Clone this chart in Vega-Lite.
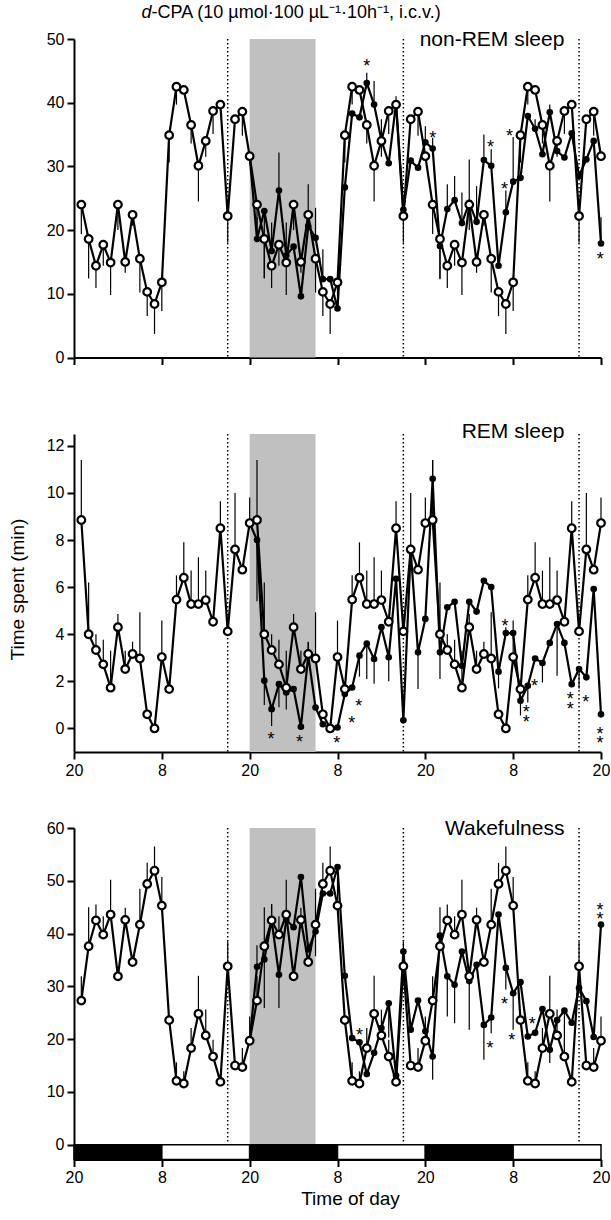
{
"$schema": "https://vega.github.io/schema/vega-lite/v6.json",
"padding": {"left": 8, "top": 3, "right": 0, "bottom": 0},
"bounds": "flush",
"spacing": 76,
"config": {
 "font": "Liberation Sans",
 "view": {"stroke": null},
 "axis": {"domainColor": "black", "domainWidth": 2, "tickColor": "black", "tickWidth": 2, "tickSize": 7, "labelColor": "black", "labelFontSize": 16, "labelFont": "Liberation Sans", "labelPadding": 3, "titleFont": "Liberation Sans", "titleFontSize": 19, "titleFontWeight": "normal", "titleColor": "black", "grid": false, "labelFlush": false, "labelOverlap": false},
 "text": {"font": "Liberation Sans", "color": "black", "fill": "black"}
},
"datasets": {
 "shade": [{"h": 24, "h2": 33}],
 "dots": [{"h": 21}, {"h": 45}, {"h": 69}],
 "ld": [{"h": 0, "h2": 12, "p": "d"}, {"h": 12, "h2": 24, "p": "l"}, {"h": 24, "h2": 36, "p": "d"}, {"h": 36, "h2": 48, "p": "l"}, {"h": 48, "h2": 60, "p": "d"}, {"h": 60, "h2": 72, "p": "l"}],
 "ast1": [{"h": 40, "v": 46.3}, {"h": 49, "v": 35.0}, {"h": 56.9, "v": 33.5}, {"h": 58.8, "v": 27.0}, {"h": 59.5, "v": 35.2}, {"h": 71.9, "v": 16.0}],
 "ast2": [{"h": 26.9, "v": -0.34}, {"h": 30.8, "v": -0.45}, {"h": 35.9, "v": -0.48}, {"h": 37.95, "v": 0.37}, {"h": 38.9, "v": 1.1}, {"h": 58.9, "v": 4.48}, {"h": 61.8, "v": 0.82}, {"h": 61.8, "v": 0.42}, {"h": 62.9, "v": 1.91}, {"h": 67.8, "v": 1.36}, {"h": 67.8, "v": 0.96}, {"h": 69.9, "v": 1.27}, {"h": 71.85, "v": -0.1}, {"h": 71.85, "v": -0.48}],
 "ast3": [{"h": 39.0, "v": 21.3}, {"h": 56.85, "v": 18.95}, {"h": 58.8, "v": 27.2}, {"h": 59.8, "v": 20.4}, {"h": 62.6, "v": 23.4}, {"h": 71.85, "v": 45.0}, {"h": 71.85, "v": 43.3}],
 "p1": [
{"h":1,"v":24,"e":19.4,"s":"o"},{"h":2,"v":18.6,"e":12.4,"s":"o"},{"h":3,"v":14.4,"e":10.9,"s":"o"},{"h":4,"v":17.7,"e":14.4,"s":"o"},{"h":5,"v":14.9,"e":9.8,"s":"o"},{"h":6,"v":24,"e":20,"s":"o"},{"h":7,"v":15,"e":13.3,"s":"o"},{"h":8,"v":22.4,"e":20.7,"s":"o"},{"h":9,"v":15.5,"e":10.2,"s":"o"},{"h":10,"v":10.3,"e":6.5,"s":"o"},{"h":11,"v":8.4,"e":3.7,"s":"o"},{"h":12,"v":11.8,"e":7.3,"s":"o"},{"h":13,"v":34.9,"e":30.6,"s":"o"},{"h":14,"v":42.5,"e":39.7,"s":"o"},{"h":15,"v":42,"e":42,"s":"o"},{"h":16,"v":36.5,"e":33.6,"s":"o"},{"h":17,"v":30.1,"e":24.5,"s":"o"},{"h":18,"v":34,"e":31.5,"s":"o"},{"h":19,"v":38.7,"e":35.1,"s":"o"},{"h":20,"v":39.7,"e":39.7,"s":"o"},{"h":21,"v":22.2,"e":18,"s":"o"},{"h":22,"v":37.4,"e":37.4,"s":"o"},{"h":23,"v":38.6,"e":34.8,"s":"o"},{"h":24,"v":31.6,"e":31.6,"s":"o"},
{"h":25,"v":24,"e":19.4,"s":"o"},{"h":26,"v":18.6,"e":12.4,"s":"o"},{"h":27,"v":14.4,"e":10.9,"s":"o"},{"h":28,"v":17.7,"e":14.4,"s":"o"},{"h":29,"v":14.9,"e":9.8,"s":"o"},{"h":30,"v":24,"e":20,"s":"o"},{"h":31,"v":15,"e":13.3,"s":"o"},{"h":32,"v":22.4,"e":20.7,"s":"o"},{"h":33,"v":15.5,"e":10.2,"s":"o"},{"h":34,"v":10.3,"e":6.5,"s":"o"},{"h":35,"v":8.4,"e":3.7,"s":"o"},{"h":36,"v":11.8,"e":7.3,"s":"o"},{"h":37,"v":34.9,"e":30.6,"s":"o"},{"h":38,"v":42.5,"e":39.7,"s":"o"},{"h":39,"v":42,"e":42,"s":"o"},{"h":40,"v":36.5,"e":33.6,"s":"o"},{"h":41,"v":30.1,"e":24.5,"s":"o"},{"h":42,"v":34,"e":31.5,"s":"o"},{"h":43,"v":38.7,"e":35.1,"s":"o"},{"h":44,"v":39.7,"e":39.7,"s":"o"},{"h":45,"v":22.2,"e":18,"s":"o"},{"h":46,"v":37.4,"e":37.4,"s":"o"},{"h":47,"v":38.6,"e":34.8,"s":"o"},{"h":48,"v":31.6,"e":31.6,"s":"o"},
{"h":49,"v":24,"e":19.4,"s":"o"},{"h":50,"v":18.6,"e":12.4,"s":"o"},{"h":51,"v":14.4,"e":10.9,"s":"o"},{"h":52,"v":17.7,"e":14.4,"s":"o"},{"h":53,"v":14.9,"e":9.8,"s":"o"},{"h":54,"v":24,"e":20,"s":"o"},{"h":55,"v":15,"e":13.3,"s":"o"},{"h":56,"v":22.4,"e":20.7,"s":"o"},{"h":57,"v":15.5,"e":10.2,"s":"o"},{"h":58,"v":10.3,"e":6.5,"s":"o"},{"h":59,"v":8.4,"e":3.7,"s":"o"},{"h":60,"v":11.8,"e":7.3,"s":"o"},{"h":61,"v":34.9,"e":30.6,"s":"o"},{"h":62,"v":42.5,"e":39.7,"s":"o"},{"h":63,"v":42,"e":42,"s":"o"},{"h":64,"v":36.5,"e":33.6,"s":"o"},{"h":65,"v":30.1,"e":24.5,"s":"o"},{"h":66,"v":34,"e":31.5,"s":"o"},{"h":67,"v":38.7,"e":35.1,"s":"o"},{"h":68,"v":39.7,"e":39.7,"s":"o"},{"h":69,"v":22.2,"e":18,"s":"o"},{"h":70,"v":37.4,"e":37.4,"s":"o"},{"h":71,"v":38.6,"e":34.8,"s":"o"},{"h":72,"v":31.6,"e":31.6,"s":"o"},
{"h":24,"v":31.6,"e":31.6,"s":"f"},{"h":25,"v":18.6,"e":22,"s":"f"},{"h":26,"v":23,"e":12.5,"s":"f"},{"h":27,"v":16.7,"e":21.2,"s":"f"},{"h":28,"v":26.2,"e":32.2,"s":"f"},{"h":29,"v":16,"e":21.2,"s":"f"},{"h":30,"v":17.4,"e":17.4,"s":"f"},{"h":31,"v":9.6,"e":9.6,"s":"f"},{"h":32,"v":20.6,"e":27.2,"s":"f"},{"h":33,"v":18.8,"e":23.5,"s":"f"},{"h":34,"v":12.3,"e":17,"s":"f"},{"h":35,"v":12.3,"e":12.3,"s":"f"},{"h":36,"v":7.7,"e":7.7,"s":"f"},{"h":37,"v":26.7,"e":26.7,"s":"f"},{"h":38,"v":38.3,"e":38.3,"s":"f"},{"h":39,"v":37.7,"e":37.7,"s":"f"},{"h":40,"v":43.1,"e":44.7,"s":"f"},{"h":41,"v":39.7,"e":43.4,"s":"f"},{"h":42,"v":34.1,"e":37.4,"s":"f"},{"h":43,"v":30.5,"e":30.5,"s":"f"},{"h":44,"v":39.9,"e":41,"s":"f"},{"h":45,"v":23.2,"e":23.2,"s":"f"},{"h":46,"v":30.9,"e":30.9,"s":"f"},{"h":47,"v":29.8,"e":29.8,"s":"f"},{"h":48,"v":33.8,"e":36.3,"s":"f"},{"h":49,"v":32.8,"e":34.5,"s":"f"},{"h":50,"v":17.5,"e":12.3,"s":"f"},{"h":51,"v":23.3,"e":27.2,"s":"f"},{"h":52,"v":24.7,"e":28.5,"s":"f"},{"h":53,"v":21.1,"e":25.9,"s":"f"},{"h":54,"v":24.3,"e":31.1,"s":"f"},{"h":55,"v":21.3,"e":26.9,"s":"f"},{"h":56,"v":31,"e":35,"s":"f"},{"h":57,"v":30.1,"e":32.7,"s":"f"},{"h":58,"v":14.4,"e":14.4,"s":"f"},{"h":59,"v":22.8,"e":26.2,"s":"f"},{"h":60,"v":27.6,"e":34.6,"s":"f"},{"h":61,"v":28.2,"e":28.2,"s":"f"},{"h":62,"v":37.9,"e":37.9,"s":"f"},{"h":63,"v":35.9,"e":37.4,"s":"f"},{"h":64,"v":31.9,"e":31.9,"s":"f"},{"h":65,"v":38.5,"e":39.7,"s":"f"},{"h":66,"v":32.4,"e":32.4,"s":"f"},{"h":67,"v":31.4,"e":31.4,"s":"f"},{"h":68,"v":35.2,"e":35.2,"s":"f"},{"h":69,"v":28.5,"e":28.5,"s":"f"},{"h":70,"v":31.1,"e":31.1,"s":"f"},{"h":71,"v":34,"e":34,"s":"f"},{"h":72,"v":17.9,"e":22,"s":"f"}
 ],
 "p2": [
{"h":1,"v":8.85,"e":11.4,"s":"o"},{"h":2,"v":4,"e":6.2,"s":"o"},{"h":3,"v":3.33,"e":4,"s":"o"},{"h":4,"v":2.72,"e":3.77,"s":"o"},{"h":5,"v":1.73,"e":3.3,"s":"o"},{"h":6,"v":4.3,"e":4.86,"s":"o"},{"h":7,"v":2.52,"e":3.3,"s":"o"},{"h":8,"v":3.16,"e":3.68,"s":"o"},{"h":9,"v":2.97,"e":4.93,"s":"o"},{"h":10,"v":0.6,"e":0.6,"s":"o"},{"h":11,"v":0,"e":0,"s":"o"},{"h":12,"v":3.03,"e":4.58,"s":"o"},{"h":13,"v":1.67,"e":1.67,"s":"o"},{"h":14,"v":5.47,"e":6.5,"s":"o"},{"h":15,"v":6.4,"e":7.9,"s":"o"},{"h":16,"v":5.28,"e":6.7,"s":"o"},{"h":17,"v":5.28,"e":7.27,"s":"o"},{"h":18,"v":5.45,"e":6.7,"s":"o"},{"h":19,"v":4.53,"e":4.53,"s":"o"},{"h":20,"v":8.5,"e":9.65,"s":"o"},{"h":21,"v":4.12,"e":4.12,"s":"o"},{"h":22,"v":7.6,"e":10,"s":"o"},{"h":23,"v":6.74,"e":6.74,"s":"o"},{"h":24,"v":8.72,"e":9.8,"s":"o"},
{"h":25,"v":8.85,"e":11.4,"s":"o"},{"h":26,"v":4,"e":6.2,"s":"o"},{"h":27,"v":3.33,"e":4,"s":"o"},{"h":28,"v":2.72,"e":3.77,"s":"o"},{"h":29,"v":1.73,"e":3.3,"s":"o"},{"h":30,"v":4.3,"e":4.86,"s":"o"},{"h":31,"v":2.52,"e":3.3,"s":"o"},{"h":32,"v":3.16,"e":3.68,"s":"o"},{"h":33,"v":2.97,"e":4.93,"s":"o"},{"h":34,"v":0.6,"e":0.6,"s":"o"},{"h":35,"v":0,"e":0,"s":"o"},{"h":36,"v":3.03,"e":4.58,"s":"o"},{"h":37,"v":1.67,"e":1.67,"s":"o"},{"h":38,"v":5.47,"e":6.5,"s":"o"},{"h":39,"v":6.4,"e":7.9,"s":"o"},{"h":40,"v":5.28,"e":6.7,"s":"o"},{"h":41,"v":5.28,"e":7.27,"s":"o"},{"h":42,"v":5.45,"e":6.7,"s":"o"},{"h":43,"v":4.53,"e":4.53,"s":"o"},{"h":44,"v":8.5,"e":9.65,"s":"o"},{"h":45,"v":4.12,"e":4.12,"s":"o"},{"h":46,"v":7.6,"e":10,"s":"o"},{"h":47,"v":6.74,"e":6.74,"s":"o"},{"h":48,"v":8.72,"e":9.8,"s":"o"},
{"h":49,"v":8.85,"e":11.4,"s":"o"},{"h":50,"v":4,"e":6.2,"s":"o"},{"h":51,"v":3.33,"e":4,"s":"o"},{"h":52,"v":2.72,"e":3.77,"s":"o"},{"h":53,"v":1.73,"e":3.3,"s":"o"},{"h":54,"v":4.3,"e":4.86,"s":"o"},{"h":55,"v":2.52,"e":3.3,"s":"o"},{"h":56,"v":3.16,"e":3.68,"s":"o"},{"h":57,"v":2.97,"e":4.93,"s":"o"},{"h":58,"v":0.6,"e":0.6,"s":"o"},{"h":59,"v":0,"e":0,"s":"o"},{"h":60,"v":3.03,"e":4.58,"s":"o"},{"h":61,"v":1.67,"e":1.67,"s":"o"},{"h":62,"v":5.47,"e":6.5,"s":"o"},{"h":63,"v":6.4,"e":7.9,"s":"o"},{"h":64,"v":5.28,"e":6.7,"s":"o"},{"h":65,"v":5.28,"e":7.27,"s":"o"},{"h":66,"v":5.45,"e":6.7,"s":"o"},{"h":67,"v":4.53,"e":4.53,"s":"o"},{"h":68,"v":8.5,"e":9.65,"s":"o"},{"h":69,"v":4.12,"e":4.12,"s":"o"},{"h":70,"v":7.6,"e":10,"s":"o"},{"h":71,"v":6.74,"e":6.74,"s":"o"},{"h":72,"v":8.72,"e":9.8,"s":"o"},
{"h":24,"v":8.72,"e":8.72,"s":"f"},{"h":25,"v":8,"e":5.4,"s":"f"},{"h":26,"v":2.03,"e":1,"s":"f"},{"h":27,"v":0.82,"e":0.1,"s":"f"},{"h":28,"v":1.88,"e":0.9,"s":"f"},{"h":29,"v":1.53,"e":0.8,"s":"f"},{"h":30,"v":1.67,"e":1.67,"s":"f"},{"h":31,"v":0.07,"e":0.07,"s":"f"},{"h":32,"v":3.09,"e":3.65,"s":"f"},{"h":33,"v":0.89,"e":0.89,"s":"f"},{"h":34,"v":0.18,"e":0.18,"s":"f"},{"h":35,"v":0.04,"e":0.04,"s":"f"},{"h":36,"v":0.04,"e":0.04,"s":"f"},{"h":37,"v":1.46,"e":1.46,"s":"f"},{"h":38,"v":1.74,"e":1.74,"s":"f"},{"h":39,"v":3.09,"e":2.2,"s":"f"},{"h":40,"v":3.6,"e":2.1,"s":"f"},{"h":41,"v":2.95,"e":1.9,"s":"f"},{"h":42,"v":4.3,"e":4.3,"s":"f"},{"h":43,"v":3.02,"e":2,"s":"f"},{"h":44,"v":6.35,"e":6.35,"s":"f"},{"h":45,"v":0.35,"e":0.35,"s":"f"},{"h":46,"v":7.55,"e":7.55,"s":"f"},{"h":47,"v":3.23,"e":1.67,"s":"f"},{"h":48,"v":4.65,"e":4.65,"s":"f"},{"h":49,"v":10.6,"e":11.4,"s":"f"},{"h":50,"v":3.23,"e":2.1,"s":"f"},{"h":51,"v":5.14,"e":5.14,"s":"f"},{"h":52,"v":5.38,"e":5.38,"s":"f"},{"h":53,"v":2.66,"e":2.66,"s":"f"},{"h":54,"v":5.38,"e":5.38,"s":"f"},{"h":55,"v":4.96,"e":4.96,"s":"f"},{"h":56,"v":6.27,"e":6.27,"s":"f"},{"h":57,"v":6,"e":6,"s":"f"},{"h":58,"v":2.41,"e":1.7,"s":"f"},{"h":59,"v":4.05,"e":4.3,"s":"f"},{"h":60,"v":4.05,"e":4.05,"s":"f"},{"h":61,"v":1.18,"e":0.55,"s":"f"},{"h":62,"v":1.81,"e":1.1,"s":"f"},{"h":63,"v":2.97,"e":2.97,"s":"f"},{"h":64,"v":2.78,"e":1.95,"s":"f"},{"h":65,"v":3.63,"e":3.63,"s":"f"},{"h":66,"v":4.43,"e":2.24,"s":"f"},{"h":67,"v":3.63,"e":3.63,"s":"f"},{"h":68,"v":1.88,"e":1.88,"s":"f"},{"h":69,"v":2.52,"e":1.7,"s":"f"},{"h":70,"v":2.17,"e":2.17,"s":"f"},{"h":71,"v":5.92,"e":5.92,"s":"f"},{"h":72,"v":0.6,"e":0.6,"s":"f"}
 ],
 "p3": [
{"h":1,"v":27.3,"e":31.9,"s":"o"},{"h":2,"v":37.6,"e":45,"s":"o"},{"h":3,"v":42.5,"e":45.5,"s":"o"},{"h":4,"v":39.8,"e":43.3,"s":"o"},{"h":5,"v":43.6,"e":50.2,"s":"o"},{"h":6,"v":31.9,"e":31.9,"s":"o"},{"h":7,"v":42.6,"e":44.9,"s":"o"},{"h":8,"v":34.6,"e":34.6,"s":"o"},{"h":9,"v":41.7,"e":48.5,"s":"o"},{"h":10,"v":49.4,"e":53.4,"s":"o"},{"h":11,"v":51.9,"e":56.5,"s":"o"},{"h":12,"v":45.3,"e":50.7,"s":"o"},{"h":13,"v":23.6,"e":23.6,"s":"o"},{"h":14,"v":12.1,"e":15.6,"s":"o"},{"h":15,"v":11.6,"e":13.9,"s":"o"},{"h":16,"v":18.3,"e":22.1,"s":"o"},{"h":17,"v":24.8,"e":32,"s":"o"},{"h":18,"v":20.7,"e":25.6,"s":"o"},{"h":19,"v":16.7,"e":19.9,"s":"o"},{"h":20,"v":11.9,"e":11.9,"s":"o"},{"h":21,"v":33.8,"e":38.5,"s":"o"},{"h":22,"v":15,"e":15,"s":"o"},{"h":23,"v":14.7,"e":18.3,"s":"o"},{"h":24,"v":19.7,"e":24.3,"s":"o"},
{"h":25,"v":27.3,"e":31.9,"s":"o"},{"h":26,"v":37.6,"e":45,"s":"o"},{"h":27,"v":42.5,"e":45.5,"s":"o"},{"h":28,"v":39.8,"e":43.3,"s":"o"},{"h":29,"v":43.6,"e":50.2,"s":"o"},{"h":30,"v":31.9,"e":31.9,"s":"o"},{"h":31,"v":42.6,"e":44.9,"s":"o"},{"h":32,"v":34.6,"e":34.6,"s":"o"},{"h":33,"v":41.7,"e":48.5,"s":"o"},{"h":34,"v":49.4,"e":53.4,"s":"o"},{"h":35,"v":51.9,"e":56.5,"s":"o"},{"h":36,"v":45.3,"e":50.7,"s":"o"},{"h":37,"v":23.6,"e":23.6,"s":"o"},{"h":38,"v":12.1,"e":15.6,"s":"o"},{"h":39,"v":11.6,"e":13.9,"s":"o"},{"h":40,"v":18.3,"e":22.1,"s":"o"},{"h":41,"v":24.8,"e":32,"s":"o"},{"h":42,"v":20.7,"e":25.6,"s":"o"},{"h":43,"v":16.7,"e":19.9,"s":"o"},{"h":44,"v":11.9,"e":11.9,"s":"o"},{"h":45,"v":33.8,"e":38.5,"s":"o"},{"h":46,"v":15,"e":15,"s":"o"},{"h":47,"v":14.7,"e":18.3,"s":"o"},{"h":48,"v":19.7,"e":24.3,"s":"o"},
{"h":49,"v":27.3,"e":31.9,"s":"o"},{"h":50,"v":37.6,"e":45,"s":"o"},{"h":51,"v":42.5,"e":45.5,"s":"o"},{"h":52,"v":39.8,"e":43.3,"s":"o"},{"h":53,"v":43.6,"e":50.2,"s":"o"},{"h":54,"v":31.9,"e":31.9,"s":"o"},{"h":55,"v":42.6,"e":44.9,"s":"o"},{"h":56,"v":34.6,"e":34.6,"s":"o"},{"h":57,"v":41.7,"e":48.5,"s":"o"},{"h":58,"v":49.4,"e":53.4,"s":"o"},{"h":59,"v":51.9,"e":56.5,"s":"o"},{"h":60,"v":45.3,"e":50.7,"s":"o"},{"h":61,"v":23.6,"e":23.6,"s":"o"},{"h":62,"v":12.1,"e":15.6,"s":"o"},{"h":63,"v":11.6,"e":13.9,"s":"o"},{"h":64,"v":18.3,"e":22.1,"s":"o"},{"h":65,"v":24.8,"e":32,"s":"o"},{"h":66,"v":20.7,"e":25.6,"s":"o"},{"h":67,"v":16.7,"e":19.9,"s":"o"},{"h":68,"v":11.9,"e":11.9,"s":"o"},{"h":69,"v":33.8,"e":38.5,"s":"o"},{"h":70,"v":15,"e":15,"s":"o"},{"h":71,"v":14.7,"e":18.3,"s":"o"},{"h":72,"v":19.7,"e":24.3,"s":"o"},
{"h":24,"v":19.7,"e":19.7,"s":"f"},{"h":25,"v":33.7,"e":37.8,"s":"f"},{"h":26,"v":35.1,"e":25.9,"s":"f"},{"h":27,"v":42.5,"e":45.6,"s":"f"},{"h":28,"v":32.2,"e":25.9,"s":"f"},{"h":29,"v":42.6,"e":42.6,"s":"f"},{"h":30,"v":41.2,"e":41.2,"s":"f"},{"h":31,"v":50.7,"e":50.7,"s":"f"},{"h":32,"v":37,"e":37,"s":"f"},{"h":33,"v":40.4,"e":35.7,"s":"f"},{"h":34,"v":47.6,"e":47.6,"s":"f"},{"h":35,"v":47.6,"e":47.6,"s":"f"},{"h":36,"v":52.6,"e":52.6,"s":"f"},{"h":37,"v":32,"e":32,"s":"f"},{"h":38,"v":20.2,"e":20.2,"s":"f"},{"h":39,"v":19.4,"e":19.4,"s":"f"},{"h":40,"v":13.4,"e":13.4,"s":"f"},{"h":41,"v":17.4,"e":17.4,"s":"f"},{"h":42,"v":22.1,"e":22.1,"s":"f"},{"h":43,"v":26.8,"e":20.3,"s":"f"},{"h":44,"v":13.1,"e":13.1,"s":"f"},{"h":45,"v":36.6,"e":36.6,"s":"f"},{"h":46,"v":21.8,"e":21.8,"s":"f"},{"h":47,"v":27.3,"e":27.3,"s":"f"},{"h":48,"v":21.5,"e":21.5,"s":"f"},{"h":49,"v":16.7,"e":12.3,"s":"f"},{"h":50,"v":39.6,"e":39.6,"s":"f"},{"h":51,"v":31.9,"e":24.3,"s":"f"},{"h":52,"v":30.3,"e":23,"s":"f"},{"h":53,"v":36.6,"e":36.6,"s":"f"},{"h":54,"v":31,"e":21.8,"s":"f"},{"h":55,"v":34.1,"e":34.1,"s":"f"},{"h":56,"v":22.7,"e":16.1,"s":"f"},{"h":57,"v":24.1,"e":21.1,"s":"f"},{"h":58,"v":43.6,"e":43.6,"s":"f"},{"h":59,"v":33.5,"e":29.4,"s":"f"},{"h":60,"v":28.7,"e":21.8,"s":"f"},{"h":61,"v":30.8,"e":30.8,"s":"f"},{"h":62,"v":20.5,"e":20.5,"s":"f"},{"h":63,"v":21.2,"e":21.2,"s":"f"},{"h":64,"v":25.7,"e":25.7,"s":"f"},{"h":65,"v":18,"e":15.5,"s":"f"},{"h":66,"v":23.6,"e":23.6,"s":"f"},{"h":67,"v":25.4,"e":18.6,"s":"f"},{"h":68,"v":23.1,"e":23.1,"s":"f"},{"h":69,"v":29.7,"e":29.7,"s":"f"},{"h":70,"v":27.2,"e":27.2,"s":"f"},{"h":71,"v":20.4,"e":20.4,"s":"f"},{"h":72,"v":41.7,"e":41.7,"s":"f"}
 ]
},
"vconcat": [
 {
  "width": 527, "height": 318.5,
  "encoding": {"x": {"field": "h", "type": "quantitative", "scale": {"domain": [0, 72], "nice": false, "zero": false}, "axis": {"values": [0, 12, 24, 36, 48, 60, 72], "labels": false, "title": null}}},
  "layer": [
   {"data": {"name": "shade"}, "mark": {"type": "rect", "fill": "#c0c0c0"}, "encoding": {"x2": {"field": "h2"}}},
   {"data": {"name": "dots"}, "mark": {"type": "rule", "stroke": "black", "strokeWidth": 1.5, "strokeDash": [1.5, 2.5]}, "encoding": {}},
   {"data": {"name": "p1"}, "mark": {"type": "rule", "stroke": "black", "strokeWidth": 1.2}, "encoding": {"y": {"field": "v", "type": "quantitative", "scale": {"domain": [0, 50], "nice": false, "zero": false}, "axis": {"values": [0, 10, 20, 30, 40, 50], "title": null}}, "y2": {"field": "e"}}},
   {"data": {"name": "p1"}, "mark": {"type": "line", "stroke": "black", "strokeWidth": 2.2}, "encoding": {"y": {"field": "v", "type": "quantitative", "scale": {"domain": [0, 50], "nice": false, "zero": false}, "axis": {"values": [0, 10, 20, 30, 40, 50], "title": null}}, "detail": {"field": "s"}}},
   {"data": {"name": "p1"}, "transform": [{"filter": "datum.s == 'f'"}], "mark": {"type": "point", "shape": "circle", "filled": true, "fill": "black", "size": 44, "opacity": 1}, "encoding": {"y": {"field": "v", "type": "quantitative", "scale": {"domain": [0, 50], "nice": false, "zero": false}, "axis": {"values": [0, 10, 20, 30, 40, 50], "title": null}}}},
   {"data": {"name": "p1"}, "transform": [{"filter": "datum.s == 'o'"}], "mark": {"type": "point", "shape": "circle", "filled": true, "fill": "white", "stroke": "black", "strokeWidth": 2.2, "size": 58, "opacity": 1}, "encoding": {"y": {"field": "v", "type": "quantitative", "scale": {"domain": [0, 50], "nice": false, "zero": false}, "axis": {"values": [0, 10, 20, 30, 40, 50], "title": null}}}},
   {"data": {"name": "ast1"}, "mark": {"type": "text", "text": "*", "fontSize": 18, "baseline": "middle", "dy": 4, "fill": "black"}, "encoding": {"y": {"field": "v", "type": "quantitative", "scale": {"domain": [0, 50], "nice": false, "zero": false}, "axis": {"values": [0, 10, 20, 30, 40, 50], "title": null}}}},
   {"data": {"values": [{"h": 67, "v": 48.9, "t": "non-REM sleep"}]}, "mark": {"type": "text", "align": "right", "baseline": "alphabetic", "fontSize": 21, "fill": "black"}, "encoding": {"y": {"field": "v", "type": "quantitative", "scale": {"domain": [0, 50], "nice": false, "zero": false}, "axis": {"values": [0, 10, 20, 30, 40, 50], "title": null}}, "text": {"field": "t"}}},
   {"data": {"values": [{"h": 10.6, "v": 54.1, "t": "d"}]}, "mark": {"type": "text", "align": "right", "baseline": "middle", "fontSize": 18, "fontStyle": "italic", "fill": "black"}, "encoding": {"y": {"field": "v", "type": "quantitative", "scale": {"domain": [0, 50], "nice": false, "zero": false}, "axis": {"values": [0, 10, 20, 30, 40, 50], "title": null}}, "text": {"field": "t"}}},
   {"data": {"values": [{"h": 10.6, "v": 54.1, "t": "-CPA (10 µmol·100 µL⁻¹·10h⁻¹, i.c.v.)"}]}, "mark": {"type": "text", "align": "left", "baseline": "middle", "fontSize": 18, "fill": "black"}, "encoding": {"y": {"field": "v", "type": "quantitative", "scale": {"domain": [0, 50], "nice": false, "zero": false}, "axis": {"values": [0, 10, 20, 30, 40, 50], "title": null}}, "text": {"field": "t"}}}
  ]
 },
 {
  "width": 527, "height": 318,
  "encoding": {"x": {"field": "h", "type": "quantitative", "scale": {"domain": [0, 72], "nice": false, "zero": false}, "axis": {"values": [0, 12, 24, 36, 48, 60, 72], "labelExpr": "datum.value % 24 == 0 ? '20' : '8'", "title": null}}},
  "layer": [
   {"data": {"name": "shade"}, "mark": {"type": "rect", "fill": "#c0c0c0"}, "encoding": {"x2": {"field": "h2"}}},
   {"data": {"name": "dots"}, "mark": {"type": "rule", "stroke": "black", "strokeWidth": 1.5, "strokeDash": [1.5, 2.5]}, "encoding": {}},
   {"data": {"name": "p2"}, "mark": {"type": "rule", "stroke": "black", "strokeWidth": 1.2}, "encoding": {"y": {"field": "v", "type": "quantitative", "scale": {"domain": [-1, 12.5], "nice": false, "zero": false}, "axis": {"values": [0, 2, 4, 6, 8, 10, 12], "title": "Time spent (min)", "titleX": -57, "titleY": 155, "titleBaseline": "middle"}}, "y2": {"field": "e"}}},
   {"data": {"name": "p2"}, "mark": {"type": "line", "stroke": "black", "strokeWidth": 2.2}, "encoding": {"y": {"field": "v", "type": "quantitative", "scale": {"domain": [-1, 12.5], "nice": false, "zero": false}, "axis": {"values": [0, 2, 4, 6, 8, 10, 12], "title": "Time spent (min)", "titleX": -57, "titleY": 155, "titleBaseline": "middle"}}, "detail": {"field": "s"}}},
   {"data": {"name": "p2"}, "transform": [{"filter": "datum.s == 'f'"}], "mark": {"type": "point", "shape": "circle", "filled": true, "fill": "black", "size": 44, "opacity": 1}, "encoding": {"y": {"field": "v", "type": "quantitative", "scale": {"domain": [-1, 12.5], "nice": false, "zero": false}, "axis": {"values": [0, 2, 4, 6, 8, 10, 12], "title": "Time spent (min)", "titleX": -57, "titleY": 155, "titleBaseline": "middle"}}}},
   {"data": {"name": "p2"}, "transform": [{"filter": "datum.s == 'o'"}], "mark": {"type": "point", "shape": "circle", "filled": true, "fill": "white", "stroke": "black", "strokeWidth": 2.2, "size": 58, "opacity": 1}, "encoding": {"y": {"field": "v", "type": "quantitative", "scale": {"domain": [-1, 12.5], "nice": false, "zero": false}, "axis": {"values": [0, 2, 4, 6, 8, 10, 12], "title": "Time spent (min)", "titleX": -57, "titleY": 155, "titleBaseline": "middle"}}}},
   {"data": {"name": "ast2"}, "mark": {"type": "text", "text": "*", "fontSize": 18, "baseline": "middle", "dy": 4, "fill": "black"}, "encoding": {"y": {"field": "v", "type": "quantitative", "scale": {"domain": [-1, 12.5], "nice": false, "zero": false}, "axis": {"values": [0, 2, 4, 6, 8, 10, 12], "title": "Time spent (min)", "titleX": -57, "titleY": 155, "titleBaseline": "middle"}}}},
   {"data": {"values": [{"h": 67, "v": 12.33, "t": "REM sleep"}]}, "mark": {"type": "text", "align": "right", "baseline": "alphabetic", "fontSize": 21, "fill": "black"}, "encoding": {"y": {"field": "v", "type": "quantitative", "scale": {"domain": [-1, 12.5], "nice": false, "zero": false}, "axis": {"values": [0, 2, 4, 6, 8, 10, 12], "title": "Time spent (min)", "titleX": -57, "titleY": 155, "titleBaseline": "middle"}}, "text": {"field": "t"}}}
  ]
 },
 {
  "width": 527, "height": 331.5,
  "encoding": {"x": {"field": "h", "type": "quantitative", "scale": {"domain": [0, 72], "nice": false, "zero": false}, "axis": {"values": [0, 12, 24, 36, 48, 60, 72], "labelExpr": "datum.value % 24 == 0 ? '20' : '8'", "title": "Time of day", "titleX": 276}}},
  "layer": [
   {"data": {"name": "shade"}, "mark": {"type": "rect", "fill": "#c0c0c0"}, "encoding": {"x2": {"field": "h2"}}},
   {"data": {"name": "dots"}, "mark": {"type": "rule", "stroke": "black", "strokeWidth": 1.5, "strokeDash": [1.5, 2.5]}, "encoding": {}},
   {"data": {"name": "ld"}, "mark": {"type": "rect", "stroke": "black", "strokeWidth": 1.5}, "encoding": {"x2": {"field": "h2"}, "y": {"datum": -2.8, "type": "quantitative", "scale": {"domain": [-2.8, 60], "nice": false, "zero": false}, "axis": {"values": [0, 10, 20, 30, 40, 50, 60], "title": null}}, "y2": {"datum": 0}, "fill": {"field": "p", "type": "nominal", "scale": {"domain": ["d", "l"], "range": ["black", "white"]}, "legend": null}}},
   {"data": {"name": "p3"}, "mark": {"type": "rule", "stroke": "black", "strokeWidth": 1.2}, "encoding": {"y": {"field": "v", "type": "quantitative", "scale": {"domain": [-2.8, 60], "nice": false, "zero": false}, "axis": {"values": [0, 10, 20, 30, 40, 50, 60], "title": null}}, "y2": {"field": "e"}}},
   {"data": {"name": "p3"}, "mark": {"type": "line", "stroke": "black", "strokeWidth": 2.2}, "encoding": {"y": {"field": "v", "type": "quantitative", "scale": {"domain": [-2.8, 60], "nice": false, "zero": false}, "axis": {"values": [0, 10, 20, 30, 40, 50, 60], "title": null}}, "detail": {"field": "s"}}},
   {"data": {"name": "p3"}, "transform": [{"filter": "datum.s == 'f'"}], "mark": {"type": "point", "shape": "circle", "filled": true, "fill": "black", "size": 44, "opacity": 1}, "encoding": {"y": {"field": "v", "type": "quantitative", "scale": {"domain": [-2.8, 60], "nice": false, "zero": false}, "axis": {"values": [0, 10, 20, 30, 40, 50, 60], "title": null}}}},
   {"data": {"name": "p3"}, "transform": [{"filter": "datum.s == 'o'"}], "mark": {"type": "point", "shape": "circle", "filled": true, "fill": "white", "stroke": "black", "strokeWidth": 2.2, "size": 58, "opacity": 1}, "encoding": {"y": {"field": "v", "type": "quantitative", "scale": {"domain": [-2.8, 60], "nice": false, "zero": false}, "axis": {"values": [0, 10, 20, 30, 40, 50, 60], "title": null}}}},
   {"data": {"name": "ast3"}, "mark": {"type": "text", "text": "*", "fontSize": 18, "baseline": "middle", "dy": 4, "fill": "black"}, "encoding": {"y": {"field": "v", "type": "quantitative", "scale": {"domain": [-2.8, 60], "nice": false, "zero": false}, "axis": {"values": [0, 10, 20, 30, 40, 50, 60], "title": null}}}},
   {"data": {"values": [{"h": 67, "v": 58.6, "t": "Wakefulness"}]}, "mark": {"type": "text", "align": "right", "baseline": "alphabetic", "fontSize": 21, "fill": "black"}, "encoding": {"y": {"field": "v", "type": "quantitative", "scale": {"domain": [-2.8, 60], "nice": false, "zero": false}, "axis": {"values": [0, 10, 20, 30, 40, 50, 60], "title": null}}, "text": {"field": "t"}}}
  ]
 }
]
}
